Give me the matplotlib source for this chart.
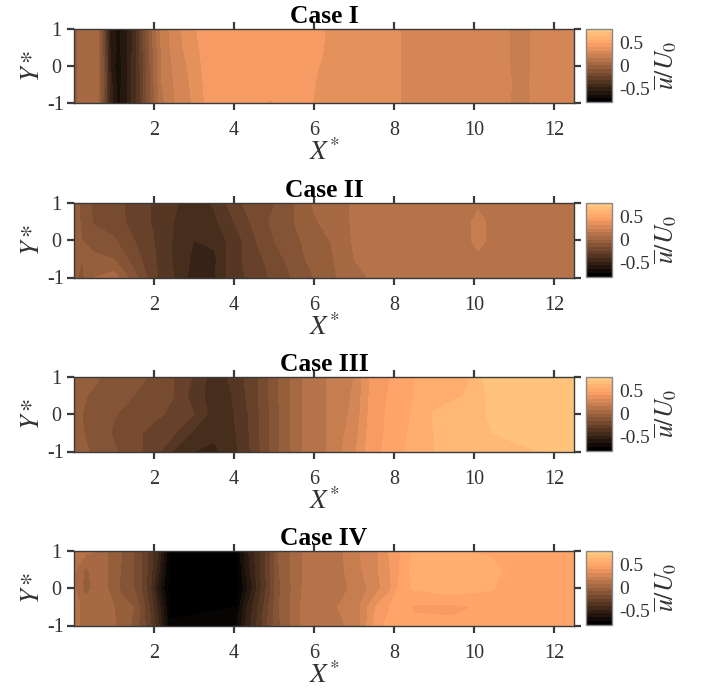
import numpy as np
import matplotlib
matplotlib.use('Agg')
import matplotlib.pyplot as plt

plt.rcParams['font.family'] = ['Liberation Serif', 'DejaVu Serif']
plt.rcParams['mathtext.fontset'] = 'stix'

y_rows = [1, 0.5, 0, -0.5, -1]
titles = ['Case I', 'Case II', 'Case III', 'Case IV']
axes_top = [28.5, 203, 377, 551]

# values, one row per y_rows entry
x1 = [0, 0.3, 0.6, 0.75, 0.9, 1.1, 1.3, 1.5, 1.7, 1.9, 2.2, 2.6, 3.0, 3.3, 4.7, 4.9, 5.1, 5.8, 6.2, 6.5, 8.1, 8.4, 10.7, 11.0, 11.3, 11.6, 12.0, 12.5]
u1_a = [-0.02, 0.05, 0.03, -0.25, -0.58, -0.68, -0.58, -0.45, -0.25, -0.05, 0.19, 0.30, 0.39, 0.44, 0.44, 0.44, 0.44, 0.44, 0.42, 0.34, 0.33, 0.28, 0.28, 0.22, 0.22, 0.27, 0.24, 0.27]
u1_b = [-0.02, 0.05, 0.02, -0.22, -0.56, -0.66, -0.58, -0.45, -0.26, -0.06, 0.18, 0.30, 0.37, 0.44, 0.44, 0.44, 0.44, 0.44, 0.41, 0.34, 0.33, 0.28, 0.28, 0.22, 0.22, 0.27, 0.26, 0.27]
u1_c = [-0.02, 0.05, 0.02, -0.18, -0.55, -0.70, -0.58, -0.44, -0.28, -0.08, 0.17, 0.28, 0.35, 0.43, 0.44, 0.44, 0.44, 0.44, 0.39, 0.34, 0.33, 0.28, 0.28, 0.22, 0.22, 0.27, 0.25, 0.27]
u1_d = [-0.02, 0.05, 0.02, -0.18, -0.52, -0.68, -0.58, -0.44, -0.28, -0.08, 0.16, 0.27, 0.34, 0.42, 0.44, 0.44, 0.44, 0.44, 0.37, 0.34, 0.33, 0.28, 0.28, 0.23, 0.23, 0.27, 0.26, 0.27]
u1_e = [-0.02, 0.05, 0.02, -0.20, -0.52, -0.66, -0.58, -0.44, -0.28, -0.08, 0.14, 0.26, 0.33, 0.41, 0.44, 0.38, 0.44, 0.44, 0.34, 0.34, 0.33, 0.28, 0.28, 0.22, 0.22, 0.27, 0.27, 0.27]

x2 = [0, 0.2, 0.5, 1.0, 1.5, 2.0, 2.5, 3.0, 3.5, 3.8, 4.2, 4.6, 5.0, 5.5, 6.0, 6.5, 7.0, 8.0, 9.8, 10.1, 10.45, 12.5]
u2_a = [-0.04, -0.10, -0.18, -0.21, -0.27, -0.33, -0.39, -0.44, -0.39, -0.32, -0.24, -0.20, -0.165, -0.08, 0.01, 0.05, 0.09, 0.10, 0.10, 0.10, 0.10, 0.10]
u2_b = [-0.02, -0.10, -0.17, -0.20, -0.27, -0.33, -0.40, -0.45, -0.42, -0.36, -0.28, -0.20, -0.14, -0.08, -0.01, 0.04, 0.09, 0.10, 0.10, 0.24, 0.10, 0.10]
u2_c = [-0.02, -0.08, -0.12, -0.15, -0.24, -0.32, -0.41, -0.48, -0.46, -0.40, -0.32, -0.23, -0.16, -0.10, -0.04, 0.01, 0.09, 0.10, 0.10, 0.24, 0.10, 0.10]
u2_d = [-0.03, -0.08, -0.06, -0.08, -0.20, -0.31, -0.41, -0.50, -0.50, -0.40, -0.32, -0.26, -0.20, -0.12, -0.05, 0.00, 0.08, 0.10, 0.10, 0.10, 0.10, 0.10]
u2_e = [-0.06, -0.10, 0.00, 0.04, -0.13, -0.30, -0.40, -0.52, -0.49, -0.40, -0.33, -0.28, -0.22, -0.15, -0.08, -0.01, 0.07, 0.10, 0.10, 0.10, 0.10, 0.10]

x3 = [0, 0.5, 1.0, 1.5, 2.0, 2.5, 3.0, 3.5, 3.9, 4.25, 4.6, 4.85, 5.1, 5.4, 5.7, 6.3, 7.0, 7.4, 7.9, 8.5, 9.0, 9.9, 10.3, 11.0, 11.7, 12.5]
u3_a = [-0.05, -0.07, -0.10, -0.14, -0.17, -0.24, -0.33, -0.44, -0.39, -0.32, -0.24, -0.16, -0.08, 0.00, 0.08, 0.16, 0.24, 0.40, 0.48, 0.56, 0.58, 0.64, 0.74, 0.76, 0.76, 0.76]
u3_b = [-0.06, -0.09, -0.12, -0.16, -0.20, -0.24, -0.36, -0.44, -0.41, -0.33, -0.24, -0.165, -0.085, 0.00, 0.08, 0.16, 0.25, 0.41, 0.49, 0.56, 0.59, 0.65, 0.72, 0.76, 0.76, 0.76]
u3_c = [-0.06, -0.11, -0.155, -0.19, -0.22, -0.26, -0.32, -0.44, -0.42, -0.35, -0.25, -0.175, -0.09, 0.00, 0.08, 0.16, 0.26, 0.42, 0.50, 0.57, 0.65, 0.68, 0.72, 0.76, 0.76, 0.76]
u3_d = [-0.06, -0.10, -0.17, -0.22, -0.27, -0.31, -0.42, -0.46, -0.43, -0.36, -0.25, -0.175, -0.09, 0.00, 0.08, 0.16, 0.28, 0.43, 0.50, 0.58, 0.64, 0.67, 0.71, 0.75, 0.76, 0.76]
u3_e = [-0.05, -0.09, -0.15, -0.21, -0.28, -0.41, -0.48, -0.50, -0.44, -0.37, -0.26, -0.175, -0.09, 0.00, 0.08, 0.16, 0.30, 0.44, 0.51, 0.59, 0.64, 0.66, 0.67, 0.69, 0.72, 0.75]

x4 = [0, 0.3, 0.6, 0.85, 1.2, 1.5, 1.7, 1.9, 2.1, 2.4, 4.05, 4.3, 4.65, 4.9, 5.1, 5.4, 5.7, 6.7, 7.15, 7.6, 7.9, 8.2, 8.5, 9.5, 10.4, 11.0, 12.5]
u4_a = [0.10, 0.10, 0.08, 0.00, -0.08, -0.16, -0.24, -0.35, -0.48, -0.82, -0.82, -0.60, -0.40, -0.24, -0.08, 0.00, 0.08, 0.155, 0.24, 0.32, 0.41, 0.49, 0.57, 0.57, 0.54, 0.52, 0.50]
u4_b = [0.10, -0.02, 0.07, 0.00, -0.09, -0.16, -0.24, -0.36, -0.52, -0.83, -0.83, -0.62, -0.41, -0.25, -0.09, 0.00, 0.08, 0.15, 0.23, 0.32, 0.40, 0.50, 0.60, 0.60, 0.60, 0.52, 0.50]
u4_c = [0.10, -0.05, 0.06, 0.00, -0.10, -0.16, -0.25, -0.38, -0.60, -0.85, -0.85, -0.68, -0.42, -0.26, -0.10, -0.01, 0.08, 0.14, 0.20, 0.30, 0.38, 0.53, 0.57, 0.61, 0.57, 0.52, 0.50]
u4_d = [0.10, 0.06, 0.06, 0.04, -0.05, -0.08, -0.20, -0.33, -0.50, -0.82, -0.80, -0.58, -0.37, -0.22, -0.09, 0.00, 0.09, 0.17, 0.24, 0.42, 0.48, 0.50, 0.47, 0.46, 0.50, 0.51, 0.50]
u4_e = [0.10, 0.06, 0.08, 0.04, -0.03, -0.10, -0.20, -0.30, -0.45, -0.79, -0.74, -0.55, -0.35, -0.20, -0.10, 0.00, 0.09, 0.15, 0.23, 0.47, 0.49, 0.50, 0.50, 0.50, 0.52, 0.50, 0.50]

x_sets = [x1, x2, x3, x4]
u_sets = [[u1_a, u1_b, u1_c, u1_d, u1_e],
          [u2_a, u2_b, u2_c, u2_d, u2_e],
          [u3_a, u3_b, u3_c, u3_d, u3_e],
          [u4_a, u4_b, u4_c, u4_d, u4_e]]

W, H = 702, 689
fig = plt.figure(figsize=(W / 100, H / 100), dpi=100)
levels = np.linspace(-0.8, 0.8, 21)
edge = '#3a3a3a'

for i in range(4):
    top = axes_top[i]
    ax = fig.add_axes([74 / W, 1 - (top + 74.5) / H, 500 / W, 74.5 / H])
    # values under the scale stay black, as in the Case IV core
    cs = ax.contourf(x_sets[i], y_rows, np.array(u_sets[i]), levels=levels,
                     cmap='copper', vmin=-0.8, vmax=0.8, extend='both')
    ax.set_xlim(0, 12.5)
    ax.set_ylim(-1, 1)
    ax.set_xticks([2, 4, 6, 8, 10, 12])
    ax.set_yticks([-1, 0, 1])
    ax.set_yticklabels(['-1', '0', '1'])
    ax.tick_params(direction='out', length=5, width=1.6, color=edge, labelcolor='#333333',
                   labelsize=14.5, top=True, right=True, pad=8)
    ax.tick_params(axis='y', pad=8)
    for lab in ax.get_yticklabels():
        lab.set_ha('center')
    for s in ax.spines.values():
        s.set_linewidth(1.0)
        s.set_color(edge)
    ax.set_xlabel(r'$X^{*}$', fontsize=19.5, color='#333333')
    ax.xaxis.set_label_coords(0.5, -0.49)
    ax.set_ylabel(r'$Y*$', fontsize=19, color='#333333')
    ax.yaxis.set_label_coords(-0.06, 0.5)
    ax.set_title(titles[i], fontsize=18.4, fontweight='bold', pad=4)

    cax = fig.add_axes([586 / W, 1 - (top + 73.5) / H, 26 / W, 73.5 / H])
    sm = plt.cm.ScalarMappable(norm=plt.Normalize(-0.8, 0.8), cmap=plt.get_cmap('copper', 20))
    cb = fig.colorbar(sm, cax=cax)
    cb.set_ticks([-0.5, 0, 0.5])
    cb.set_ticklabels(['-0.5', '0', '0.5'])
    cb.ax.tick_params(length=0, labelsize=14, labelcolor='#333333', pad=5)
    cb.outline.set_edgecolor('#888888')
    cb.outline.set_linewidth(1.0)
    cb.set_label(r'$\overline{u}/U_0$', fontsize=18.5, color='#333333', labelpad=2)

fig.savefig('out.png', dpi=100)
